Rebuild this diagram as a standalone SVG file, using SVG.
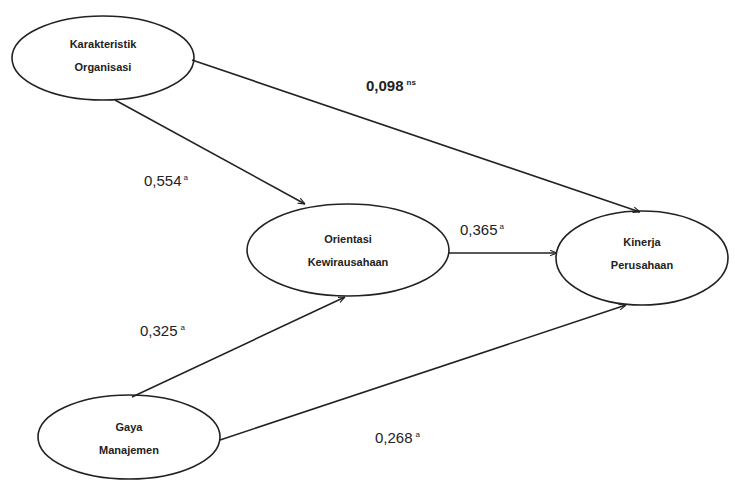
<svg xmlns="http://www.w3.org/2000/svg" width="735" height="481" viewBox="0 0 735 481">
<style>
.node ellipse{fill:#fff;stroke:#222;stroke-width:1.6}
.node text{font-family:"Liberation Sans",Arial,sans-serif;font-size:11px;font-weight:bold;fill:#222;text-anchor:middle}
.edge{stroke:#222;stroke-width:1.6;fill:none;marker-end:url(#arr)}
.lbl{font-family:"Liberation Sans",Arial,sans-serif;font-size:15px;fill:#222}
.sup{font-size:8px}
</style>
<defs>
<marker id="arr" viewBox="0 0 10 10" refX="10" refY="5" markerWidth="7" markerHeight="7" orient="auto" markerUnits="userSpaceOnUse">
<path d="M0,1 L10,5 L0,9" fill="none" stroke="#222" stroke-width="1.6"/>
</marker>
</defs>
<rect width="735" height="481" fill="#fff"/>
<g id="n-karakteristik" class="node">
<ellipse cx="103" cy="58" rx="91" ry="42"/>
<text x="103" y="48">Karakteristik</text>
<text x="103" y="71">Organisasi</text>
</g>
<g id="n-orientasi" class="node">
<ellipse cx="348" cy="250" rx="101" ry="46"/>
<text x="348" y="243">Orientasi</text>
<text x="348" y="266">Kewirausahaan</text>
</g>
<g id="n-kinerja" class="node">
<ellipse cx="642" cy="258" rx="86" ry="47"/>
<text x="642" y="246">Kinerja</text>
<text x="642" y="269">Perusahaan</text>
</g>
<g id="n-gaya" class="node">
<ellipse cx="129" cy="437" rx="91" ry="42"/>
<text x="129" y="431">Gaya</text>
<text x="129" y="454">Manajemen</text>
</g>
<g id="connectors">
<line class="edge" x1="192" y1="60" x2="640" y2="212"/>
<line class="edge" x1="115" y1="100" x2="305" y2="204"/>
<line class="edge" x1="449" y1="253" x2="557" y2="253"/>
<line class="edge" x1="132" y1="397" x2="345" y2="297"/>
<line class="edge" x1="220" y1="440" x2="626" y2="305"/>
</g>
<g id="labels">
<text class="lbl" x="366" y="91" font-weight="bold">0,098<tspan class="sup" dx="3" dy="-6">ns</tspan></text>
<text class="lbl" x="144" y="186">0,554<tspan class="sup" dx="2" dy="-6">a</tspan></text>
<text class="lbl" x="460" y="235">0,365<tspan class="sup" dx="2" dy="-6">a</tspan></text>
<text class="lbl" x="140" y="336">0,325<tspan class="sup" dx="3" dy="-6">a</tspan></text>
<text class="lbl" x="375" y="443">0,268<tspan class="sup" dx="3" dy="-6">a</tspan></text>
</g>
</svg>
